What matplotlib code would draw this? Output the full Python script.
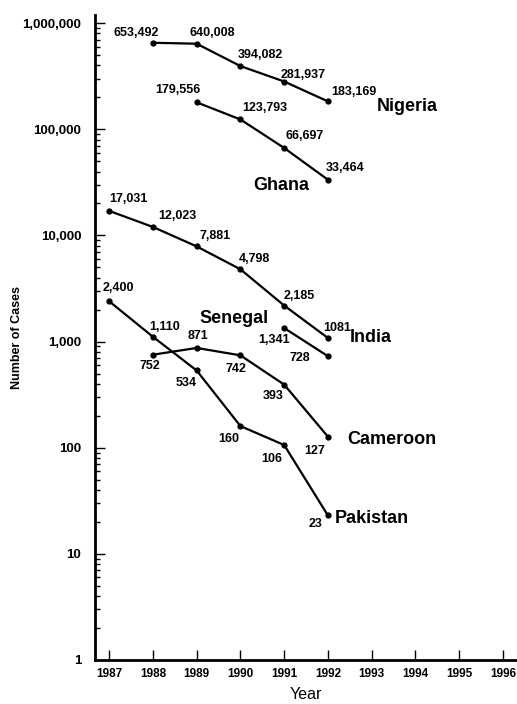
import matplotlib
matplotlib.use("Agg")
from matplotlib import pyplot as plt
from matplotlib.ticker import LogLocator, FixedLocator, NullFormatter

plt.rcParams['font.family'] = ['Liberation Sans', 'DejaVu Sans']

years = list(range(1987, 1997))

nigeria_yr = [1988, 1989, 1990, 1991, 1992]
nigeria = [653492, 640008, 394082, 281937, 183169]
ghana_yr = [1989, 1990, 1991, 1992]
ghana = [179556, 123793, 66697, 33464]
india_yr = [1987, 1988, 1989, 1990, 1991, 1992]
india = [17031, 12023, 7881, 4798, 2185, 1081]
senegal_yr = [1991, 1992]
senegal = [1341, 728]
cameroon_yr = [1988, 1989, 1990, 1991, 1992]
cameroon = [752, 871, 742, 393, 127]
pakistan_yr = [1987, 1988, 1989, 1990, 1991, 1992]
pakistan = [2400, 1110, 534, 160, 106, 23]

nigeria_lbl = ['653,492', '640,008', '394,082', '281,937', '183,169']
ghana_lbl = ['179,556', '123,793', '66,697', '33,464']
india_lbl = ['17,031', '12,023', '7,881', '4,798', '2,185', '1081']
senegal_lbl = ['1,341', '728']
cameroon_lbl = ['752', '871', '742', '393', '127']
pakistan_lbl = ['2,400', '1,110', '534', '160', '106', '23']

# label offsets in pixels (dx, dy up) from each point
nigeria_off = [(-17, 10), (16, 11), (20, 11), (19, 7), (26, 9)]
ghana_off = [(-19, 12), (24, 11), (20, 12), (17, 12)]
india_off = [(19, 12), (24, 11), (18, 10), (14, 10), (15, 10), (9, 10)]
senegal_off = [(-10, -12), (-28, -2)]
cameroon_off = [(-3, -11), (1, 12), (-4, -14), (-11, -11), (-13, -14)]
pakistan_off = [(9, 13), (12, 10), (-10, -13), (-12, -13), (-12, -14), (-12, -9)]

series = [
    ('Nigeria', nigeria_yr, nigeria, nigeria_lbl, nigeria_off, -1, (49, -5)),
    ('Ghana', ghana_yr, ghana, ghana_lbl, ghana_off, -1, (-75, -6)),
    ('India', india_yr, india, india_lbl, india_off, -1, (22, 0)),
    ('Senegal', senegal_yr, senegal, senegal_lbl, senegal_off, 0, (-85, 10)),
    ('Cameroon', cameroon_yr, cameroon, cameroon_lbl, cameroon_off, -1, (19, -3)),
    ('Pakistan', pakistan_yr, pakistan, pakistan_lbl, pakistan_off, -1, (7, -3)),
]

fig = plt.figure(figsize=(5.17, 7.04), dpi=100)
ax = fig.add_axes([0.184, 0.0625, 0.816, 0.916])

for name, xs, ys, lbls, offs, anchor, name_off in series:
    ax.plot(xs, ys, color='black', lw=1.6, marker='o', markersize=3.5)
    for x, y, t, o in zip(xs, ys, lbls, offs):
        ax.annotate(t, (x, y), xytext=o, textcoords='offset pixels',
                    ha='center', va='center', fontsize=9, fontweight='bold')
    ax.annotate(name, (xs[anchor], ys[anchor]), xytext=name_off,
                textcoords='offset pixels', ha='left', va='center',
                fontsize=13, fontweight='bold')

ax.set_yscale('log')
ax.set_ylim(1, 1.19e6)
ax.set_xlim(1986.68, 1996.32)

ax.xaxis.set_major_locator(FixedLocator(years))
ax.set_xticklabels([str(y) for y in years], fontsize=8.5, fontweight='bold')
ax.yaxis.set_minor_locator(LogLocator(base=10, subs=(2, 3, 4, 5, 6, 7, 8, 9), numticks=20))
ax.yaxis.set_minor_formatter(NullFormatter())
ytick_vals = [1, 10, 100, 1000, 10000, 100000, 1000000]
ax.set_yticks(ytick_vals)
ax.set_yticklabels([f"{v:,}" for v in ytick_vals], fontsize=9.5, fontweight='bold')

ax.tick_params(axis='x', direction='in', length=7, width=1, pad=6)
ax.tick_params(axis='y', which='major', direction='in', length=7, width=1, pad=10)
ax.tick_params(axis='y', which='minor', direction='in', length=3.5, width=1)

ax.spines['top'].set_visible(False)
ax.spines['right'].set_visible(False)
ax.spines['left'].set_linewidth(2)
ax.spines['bottom'].set_linewidth(2)

ax.set_xlabel('Year', fontsize=11.5, labelpad=5)
ax.set_ylabel('Number of Cases', fontsize=9, fontweight='bold')
ax.yaxis.set_label_coords(-0.171, 0.5)

fig.savefig('out.png', dpi=100)
